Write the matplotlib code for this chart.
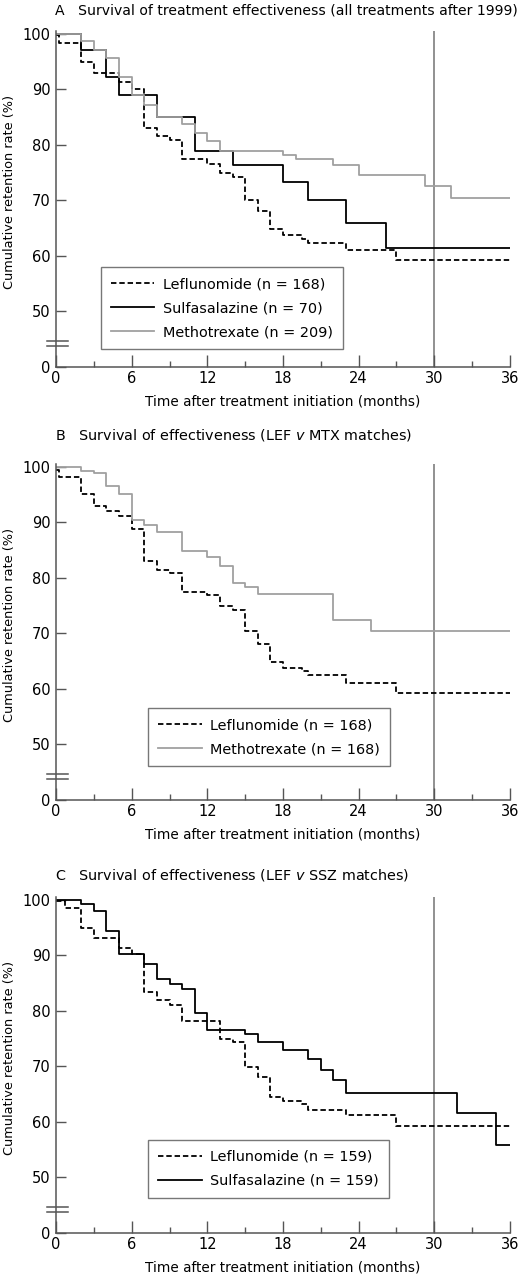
import matplotlib
matplotlib.use("Agg")
import matplotlib.pyplot as plt

plt.rcParams["font.family"] = ["DejaVu Sans"]

# ---- datos (meses, % retención) ----
# Panel A
lef_a_t = [0, 0.25, 2, 3, 5, 6, 7, 8, 9, 10, 12, 13, 14, 15, 16, 17, 18, 19.5, 20, 23, 27, 36]
lef_a_v = [99.8, 98.4, 94.9, 93.0, 91.3, 90.1, 83.0, 81.6, 80.9, 77.4, 76.6, 74.9, 74.2, 70.0, 68.0, 64.8, 63.8, 63.0, 62.3, 61.1, 59.3, 59.3]
ssz_a_t = [0, 2, 4, 5, 8, 11, 14, 18, 20, 23, 26.2, 36]
ssz_a_v = [100, 97.1, 92.2, 88.9, 85.0, 78.8, 76.4, 73.3, 70.0, 65.9, 61.4, 61.4]
mtx_a_t = [0, 2, 3, 4, 5, 6, 7, 8, 10, 11, 12, 13, 18, 19, 22, 24, 29.3, 31.3, 36]
mtx_a_v = [100, 98.7, 97.1, 95.6, 92.2, 88.9, 87.1, 85.0, 83.8, 82.1, 80.6, 78.8, 78.2, 77.5, 76.4, 74.6, 72.5, 70.4, 70.4]

# Panel B
lef_b_t = [0, 0.25, 2, 3, 4, 5, 6, 7, 8, 9, 10, 12, 13, 14, 15, 16, 17, 18, 19.5, 20, 23, 27, 36]
lef_b_v = [99.4, 98.1, 95.1, 92.9, 92.0, 91.1, 88.8, 83.0, 81.5, 80.8, 77.5, 76.9, 75.0, 74.3, 70.4, 68.0, 64.8, 63.8, 63.3, 62.5, 61.0, 59.3, 59.3]
mtx_b_t = [0, 2, 3, 4, 5, 6, 7, 8, 10, 12, 13, 14, 15, 16, 22, 25, 36]
mtx_b_v = [100, 99.2, 98.8, 96.6, 95.1, 90.4, 89.5, 88.3, 84.9, 83.8, 82.1, 79.1, 78.3, 77.1, 72.5, 70.4, 70.4]

# Panel C
lef_c_t = [0, 0.7, 2, 3, 5, 6, 7, 8, 9, 10, 13, 14, 15, 16, 17, 18, 19.5, 20, 23, 27, 36]
lef_c_v = [99.8, 98.5, 95.0, 93.2, 91.4, 90.2, 83.4, 82.0, 81.1, 78.1, 75.0, 74.4, 69.9, 68.1, 64.5, 63.8, 63.3, 62.1, 61.2, 59.2, 59.2]
ssz_c_t = [0, 2, 3, 4, 5, 7, 8, 9, 10, 11, 12, 15, 16, 18, 20, 21, 22, 23, 31.8, 34.9, 36]
ssz_c_v = [100, 99.2, 97.9, 94.3, 90.2, 88.4, 85.8, 84.9, 84.0, 79.7, 76.6, 75.9, 74.4, 73.0, 71.3, 69.4, 67.6, 65.2, 61.6, 55.9, 55.9]

titulos = [
    "A   Survival of treatment effectiveness (all treatments after 1999)",
    "B   Survival of effectiveness (LEF $\\it{v}$ MTX matches)",
    "C   Survival of effectiveness (LEF $\\it{v}$ SSZ matches)",
]

paneles = [
    [(lef_a_t, lef_a_v, "Leflunomide (n = 168)", "black", "--"),
     (ssz_a_t, ssz_a_v, "Sulfasalazine (n = 70)", "black", "-"),
     (mtx_a_t, mtx_a_v, "Methotrexate (n = 209)", "#a0a0a0", "-")],
    [(lef_b_t, lef_b_v, "Leflunomide (n = 168)", "black", "--"),
     (mtx_b_t, mtx_b_v, "Methotrexate (n = 168)", "#a0a0a0", "-")],
    [(lef_c_t, lef_c_v, "Leflunomide (n = 159)", "black", "--"),
     (ssz_c_t, ssz_c_v, "Sulfasalazine (n = 159)", "black", "-")],
]

# posición de cada leyenda (fracción de ejes, esquina inferior izquierda)
leyendas = [(0.099, 0.053), (0.203, 0.10), (0.203, 0.105)]
fondos = [0.7133, 0.375, 0.0367]
titulo_y = [10, 435, 875]  # px desde arriba
titulo_tam = [10.1, 10.4, 10.4]

fig = plt.figure(figsize=(5.26, 12.8), dpi=100)
eje_col = "#555555"

for i in range(3):
    ax = fig.add_axes([0.1065, fondos[i], 0.863, 0.2625])
    for t, v, lab, col, ls in paneles[i]:
        ax.plot(t, v, drawstyle="steps-post", color=col, ls=ls, lw=1.3,
                label=lab, dashes=(3, 1.6) if ls == "--" else (None, None))
    ax.axvline(30, color="#888888", lw=1.3, zorder=0)

    ax.set_xlim(0, 36)
    ax.set_ylim(40, 100.5)
    ax.set_xticks(range(0, 37, 6))
    ax.set_xticks(range(3, 36, 6), minor=True)
    ax.set_yticks([40, 50, 60, 70, 80, 90, 100])
    ax.set_yticklabels(["0", "50", "60", "70", "80", "90", "100"])
    ax.tick_params(axis="x", which="major", direction="in", length=8.5, width=1,
                   color=eje_col, labelsize=10.5, pad=3)
    ax.tick_params(axis="x", which="minor", direction="in", length=4, width=1, color=eje_col)
    ax.tick_params(axis="y", direction="in", length=7, width=1, color=eje_col,
                   labelsize=10.5, pad=4)
    for s in ["top", "right"]:
        ax.spines[s].set_visible(False)
    for s in ["left", "bottom"]:
        ax.spines[s].set_color(eje_col)
        ax.spines[s].set_linewidth(1.1)

    # marcas de corte del eje y
    for yb in [43.7, 44.7]:
        ax.plot([-0.75, 0.95], [yb, yb], color=eje_col, lw=1.1, clip_on=False)

    ax.set_xlabel("Time after treatment initiation (months)", fontsize=9.8, labelpad=6)
    ax.set_ylabel("Cumulative retention rate (%)", fontsize=9.3)
    ax.yaxis.set_label_coords(-0.088, 0.52)
    fig.text(55 / 526, 1 - titulo_y[i] / 1280, titulos[i], fontsize=titulo_tam[i],
             ha="left", va="center")

    leg = ax.legend(loc="lower left", bbox_to_anchor=leyendas[i], fontsize=10.4,
                    frameon=True, fancybox=False, handlelength=3.0, handletextpad=0.6,
                    labelspacing=0.68, borderpad=0.7, borderaxespad=0)
    leg.get_frame().set_edgecolor(eje_col)
    leg.get_frame().set_linewidth(1)

fig.savefig("out.png", dpi=100)
